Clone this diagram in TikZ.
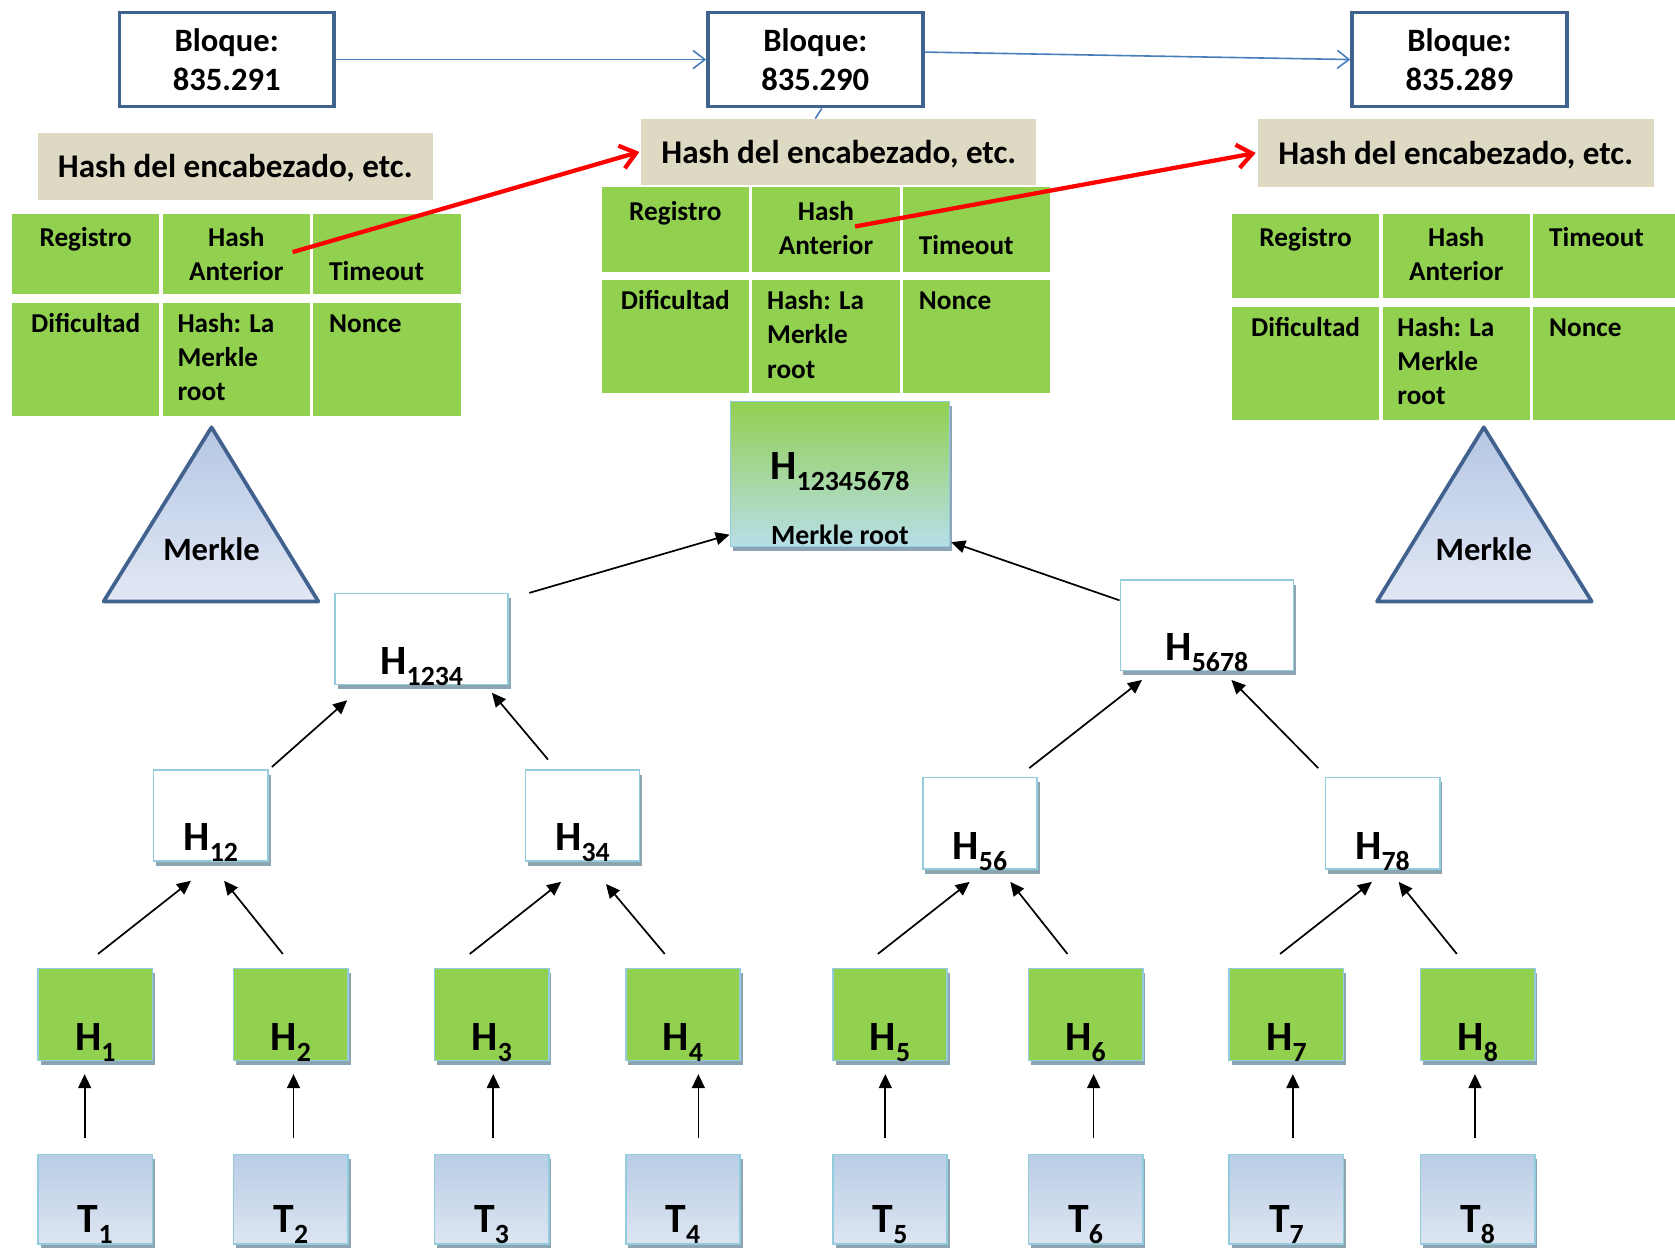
\documentclass[tikz,border=0pt]{standalone}
\usepackage{fontspec}
\setmainfont{Carlito}
\usetikzlibrary{arrows.meta,shadows}
\definecolor{blkc}{RGB}{63,98,143}
\definecolor{tanc}{RGB}{221,217,195}
\definecolor{greenc}{RGB}{146,208,80}
\definecolor{ltb}{RGB}{147,205,221}
\definecolor{shc}{RGB}{141,165,178}
\definecolor{ttop}{RGB}{185,205,229}
\definecolor{tbot}{RGB}{221,229,242}
\definecolor{trtop}{RGB}{181,199,228}
\definecolor{trbot}{RGB}{226,232,244}
\definecolor{rootbot}{RGB}{183,222,232}
\definecolor{bluea}{RGB}{74,126,187}
\definecolor{trib}{RGB}{65,97,142}
\newcommand\hlab[2]{{\fontsize{39}{39}\selectfont #1}\raisebox{-10pt}{\fontsize{26}{26}\selectfont #2}}
\newcommand\blocktable[5]{%
  \pgfmathsetmacro\tbxa{#2}%
  \pgfmathsetmacro\tbxb{#2+141}%
  \pgfmathsetmacro\tbxc{#2+282}%
  \pgfmathsetmacro\tbyb{#3+#4+8}%
  \node[cell,minimum width=138pt,minimum height=#4pt] (#1a) at (\tbxa,#3) {};
  \node[cell,minimum width=138pt,minimum height=#4pt] (#1b) at (\tbxb,#3) {};
  \node[cell,minimum width=138pt,minimum height=#4pt] (#1c) at (\tbxc,#3) {};
  \node[cell,minimum width=138pt,minimum height=106pt] (#1d) at (\tbxa,\tbyb) {};
  \node[cell,minimum width=138pt,minimum height=106pt] (#1e) at (\tbxb,\tbyb) {};
  \node[cell,minimum width=138pt,minimum height=106pt] (#1f) at (\tbxc,\tbyb) {};
  \node[ct,anchor=base] (#1ta) at ([yshift=-31pt]#1a.north) {Registro};
  \node[ct,anchor=base] (#1tb1) at ([yshift=-31pt]#1b.north) {Hash};
  \node[ct,anchor=base] (#1tb2) at ([yshift=-63pt]#1b.north) {Anterior};
  \node[ct,anchor=base west] (#1tc) at ([xshift=15pt,yshift=-#5pt]#1c.north west) {Timeout};
  \node[ct,anchor=base] (#1td) at ([yshift=-28pt]#1d.north) {Dificultad};
  \node[ct,anchor=base west] (#1te1) at ([xshift=14pt,yshift=-28pt]#1e.north west) {Hash: La};
  \node[ct,anchor=base west] (#1te2) at ([xshift=14pt,yshift=-60pt]#1e.north west) {Merkle};
  \node[ct,anchor=base west] (#1te3) at ([xshift=14pt,yshift=-92pt]#1e.north west) {root};
  \node[ct,anchor=base west] (#1tf) at ([xshift=15pt,yshift=-28pt]#1f.north west) {Nonce};
}
\begin{document}
\begin{tikzpicture}[x=1pt,y=-1pt,
  blk/.style={draw=blkc,line width=3.5pt,fill=white,minimum width=201pt,minimum height=88pt,anchor=north west,inner sep=0pt,align=center,font=\fontsize{30.5}{36}\selectfont\bfseries},
  hashb/.style={fill=tanc,anchor=north west,inner sep=0pt,text depth=0pt,font=\fontsize{31}{36}\selectfont\bfseries},
  cell/.style={fill=greenc,anchor=north west,inner sep=0pt},
  ct/.style={font=\fontsize{25.5}{32}\selectfont\bfseries,inner sep=0pt},
  sh/.style={general shadow={fill=shc,shadow xshift=2.5pt,shadow yshift=-4.5pt}},
  hbox/.style={sh,draw=ltb,line width=1.5pt,fill=white,anchor=north west,inner sep=0pt},
  gbox/.style={sh,draw=ltb,line width=1.5pt,fill=greenc,anchor=north west,inner sep=0pt,minimum width=107pt,minimum height=86pt},
  tbox/.style={sh,draw=ltb,line width=1.5pt,top color=ttop,bottom color=tbot,anchor=north west,inner sep=0pt,minimum width=107pt,minimum height=84pt},
  rootb/.style={sh,draw=ltb,line width=1.5pt,top color=greenc,bottom color=rootbot,anchor=north west,inner sep=0pt},
  lab/.style={inner sep=0pt,anchor=base,font=\bfseries},
  tri/.style={draw=trib,line width=3.5pt,line join=round,top color=trtop,bottom color=trbot},
  arr/.style={-{Triangle[length=13pt,width=12pt]},line width=1.6pt,black},
  barr/.style={-{Straight Barb[length=11pt,width=17pt]},draw=bluea,line width=1.5pt},
  rarr/.style={-{Straight Barb[length=14pt,width=22pt]},draw=red,line width=4pt}]
\useasboundingbox (0,0) rectangle (1568,1168);

% blocks
\node[blk] (B1) at (110,10) {Bloque:\\835.291};
\node[blk] (B2) at (661,10) {Bloque:\\835.290};
\node[blk] (B3) at (1264,10) {Bloque:\\835.289};

% header hash boxes
\node[hashb,minimum width=370pt,minimum height=63pt] (HB1) at (35,124) {Hash del encabezado, etc.};
\node[hashb,minimum width=370pt,minimum height=62pt] (HB2) at (600,111) {Hash del encabezado, etc.};
\node[hashb,minimum width=371pt,minimum height=64pt] (HB3) at (1177,111) {Hash del encabezado, etc.};

% tables
\blocktable{L}{11}{200}{75}{63}
\blocktable{M}{563}{175}{79}{63}
\blocktable{R}{1153}{200}{79}{31}

% blue connectors
\draw[barr] (B1.east) -- (B2.west);
\draw[barr] ([yshift=7pt]B2.east) -- (B3.west);
\draw[draw=bluea,line width=1.5pt] ([xshift=6pt]B2.south) -- ([xshift=-22pt]HB2.north);

% triangles
\draw[tri] (97,563) -- (198,400) -- (298,563) -- cycle;
\node[lab,font=\fontsize{30.5}{36}\selectfont\bfseries] (MkL) at (198,525) {Merkle};
\draw[tri] (1289,563) -- (1389,400) -- (1490,563) -- cycle;
\node[lab,font=\fontsize{30.5}{36}\selectfont\bfseries] (MkR) at (1389,525) {Merkle};

% merkle root
\node[rootb,minimum width=205pt,minimum height=136pt] (root) at (683,375) {};
\node[lab] (rootl) at ([yshift=-74pt]root.north) {\hlab{H}{12345678}};
\node[lab,font=\fontsize{26}{30}\selectfont\bfseries] (rootm) at ([yshift=3pt]root.south) {Merkle root};

% intermediate hashes
\node[hbox,minimum width=162pt,minimum height=85pt] (H1234) at (313,555) {};
\node[hbox,minimum width=162pt,minimum height=85pt] (H5678) at (1048,542) {};
\node[hbox,minimum width=107pt,minimum height=85pt] (H12) at (143,720) {};
\node[hbox,minimum width=107pt,minimum height=85pt] (H34) at (491,720) {};
\node[hbox,minimum width=107pt,minimum height=86pt] (H56) at (863,727) {};
\node[hbox,minimum width=107pt,minimum height=86pt] (H78) at (1240,727) {};
\node[lab] (lH1234) at ([yshift=10pt]H1234.south) {\hlab{H}{1234}};
\node[lab] (lH5678) at ([yshift=10pt]H5678.south) {\hlab{H}{5678}};
\node[lab] (lH12) at ([yshift=10pt]H12.south) {\hlab{H}{12}};
\node[lab] (lH34) at ([yshift=10pt]H34.south) {\hlab{H}{34}};
\node[lab] (lH56) at ([yshift=10pt]H56.south) {\hlab{H}{56}};
\node[lab] (lH78) at ([yshift=10pt]H78.south) {\hlab{H}{78}};

% leaves
\foreach \i/\x in {1/35,2/218,3/406,4/585,5/779,6/962,7/1150,8/1329}{
  \node[gbox] (H\i) at (\x,906) {};
  \node[lab] (lH\i) at ([yshift=10pt]H\i.south) {\hlab{H}{\i}};
  \node[tbox] (T\i) at (\x,1080) {};
  \node[lab] (lT\i) at ([yshift=11.5pt]T\i.south) {\hlab{T}{\i}};
}

% T -> H arrows
\foreach \i/\d in {1/-10,2/2.5,3/1.5,4/14.5,5/-4.5,6/7.5,7/6,8/-2.5}{
  \draw[arr] ([xshift=\d pt,yshift=15pt]T\i.north) -- ([xshift=\d pt,yshift=-12pt]H\i.south);
}

% H -> pair arrows
\draw[arr] ([xshift=2.5pt,yshift=13pt]H1.north) -- ([xshift=-18.5pt,yshift=-18pt]H12.south);
\draw[arr] ([xshift=-7.5pt,yshift=13pt]H2.north) -- ([xshift=12.5pt,yshift=-18pt]H12.south);
\draw[arr] ([xshift=-20.5pt,yshift=13pt]H3.north) -- ([xshift=-20pt,yshift=-19pt]H34.south);
\draw[arr] ([xshift=-17pt,yshift=13pt]H4.north) -- ([xshift=22pt,yshift=-21pt]H34.south);
\draw[arr] ([xshift=-11.5pt,yshift=13pt]H5.north) -- ([xshift=-9.5pt,yshift=-11pt]H56.south);
\draw[arr] ([xshift=-17pt,yshift=13pt]H6.north) -- ([xshift=28.5pt,yshift=-11pt]H56.south);
\draw[arr] ([xshift=-6pt,yshift=13pt]H7.north) -- ([xshift=-10pt,yshift=-11pt]H78.south);
\draw[arr] ([xshift=-19.5pt,yshift=13pt]H8.north) -- ([xshift=15pt,yshift=-11pt]H78.south);

% pair -> quad arrows
\draw[arr] ([xshift=3pt,yshift=2pt]H12.north east) -- ([xshift=12pt,yshift=-14pt]H1234.south west);
\draw[arr] ([xshift=22pt,yshift=9pt]H34.north west) -- ([xshift=-16pt,yshift=-7pt]H1234.south east);
\draw[arr] ([xshift=-8pt,yshift=8pt]H56.north east) -- ([xshift=21pt,yshift=-8pt]H5678.south west);
\draw[arr] ([xshift=-6pt,yshift=8pt]H78.north west) -- ([xshift=23pt,yshift=-8pt]H5678.south);

% quad -> root
\draw[arr] ([xshift=19pt]H1234.north east) -- ([yshift=12pt]root.south west);
\draw[arr] ([yshift=-20pt]H5678.north west) -- ([xshift=1pt,yshift=5pt]root.south east);

% red arrows
\draw[rarr] ([xshift=-16.5pt,yshift=-36pt]Lb.north east) -- ([xshift=-1.5pt]HB2.west);
\draw[rarr] ([xshift=-42pt,yshift=-37pt]Mb.north east) -- ([xshift=-1.5pt]HB3.west);
\end{tikzpicture}
\end{document}
